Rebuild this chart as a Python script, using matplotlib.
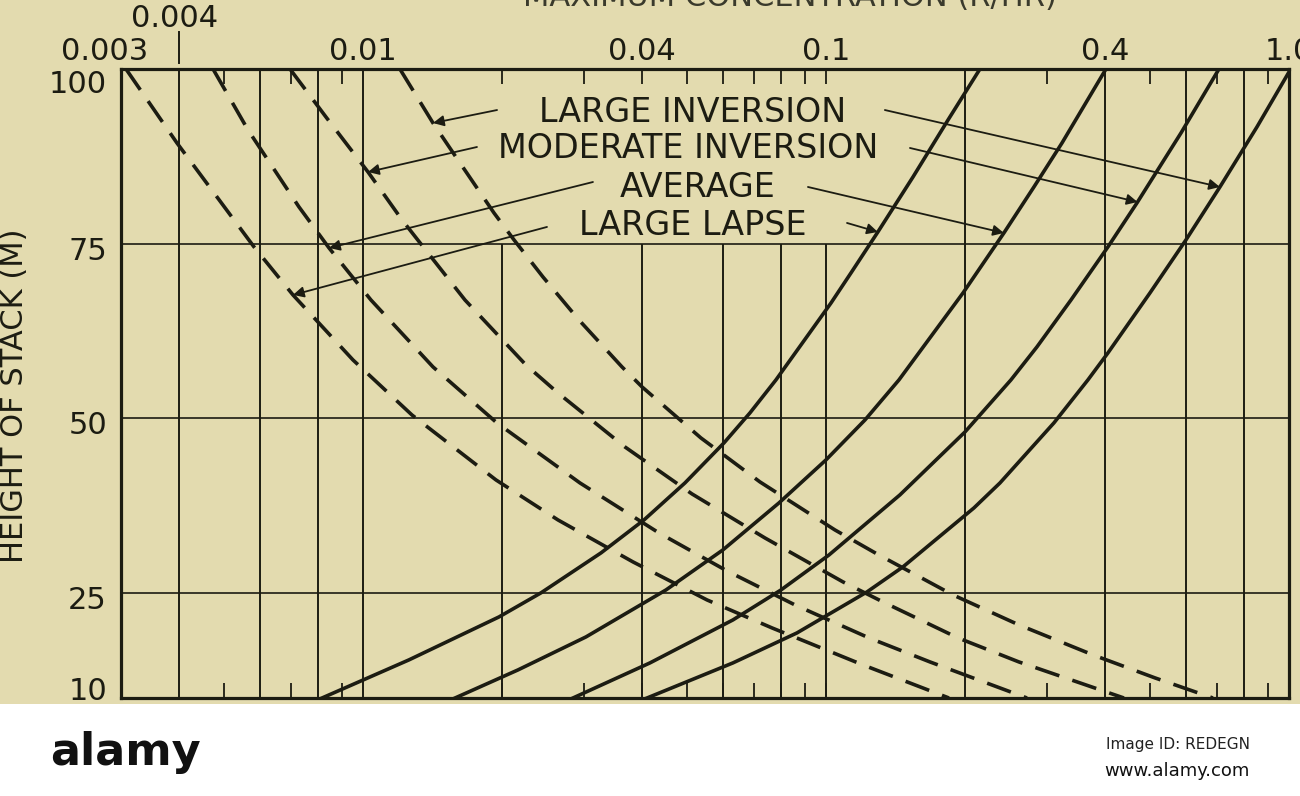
import numpy as np
import matplotlib
matplotlib.use('Agg')
import matplotlib.pyplot as plt
from matplotlib import transforms
from matplotlib.patches import Rectangle
from matplotlib.ticker import FixedLocator, NullLocator, NullFormatter

# ---------------- data ----------------
cases = ['LARGE LAPSE', 'AVERAGE', 'MODERATE INVERSION', 'LARGE INVERSION']

# dashed curves: height of stack (m) vs concentration
dash_h_lapse = [100, 89.41, 74.54, 67.67, 58.37, 50.50, 41.20, 35.48, 29.47, 24.03, 20.03,
                14.73, 10.0]
dash_c_lapse = [0.003075, 0.003963, 0.005814, 0.007057, 0.00951, 0.01275, 0.01937, 0.02636,
                0.03829, 0.05533, 0.07642, 0.1202, 0.1843]

dash_h_avg = [100, 91.27, 80.26, 74.39, 66.95, 57.37, 49.36, 40.77, 33.62, 28.18, 23.32,
              18.60, 15.16, 10.0]
dash_c_avg = [0.004741, 0.005643, 0.007271, 0.008443, 0.0104, 0.01416, 0.01946, 0.02941,
              0.04356, 0.06111, 0.08567, 0.1238, 0.1677, 0.2717]

dash_h_modinv = [100, 93.13, 85.26, 78.40, 73.68, 66.95, 57.65, 53.65, 45.92, 39.20, 32.90,
                 26.61, 23.61, 18.60, 15.16, 10.0]
dash_c_modinv = [0.006952, 0.008315, 0.01025, 0.01214, 0.01381, 0.0166, 0.02248, 0.02636,
                 0.03679, 0.05134, 0.0738, 0.1088, 0.134, 0.1927, 0.261, 0.44]

dash_h_largeinv = [100, 92.27, 87.41, 79.40, 75.54, 70.24, 64.09, 57.37, 54.51, 47.21, 40.92,
                   34.05, 30.62, 24.75, 20.46, 16.17, 12.88, 10.0]
dash_c_largeinv = [0.01201, 0.01416, 0.01587, 0.01918, 0.02119, 0.02447, 0.02926, 0.03625,
                   0.04005, 0.05367, 0.07198, 0.1045, 0.1288, 0.188, 0.261, 0.3771, 0.5133,
                   0.6849]

# solid curves
solid_h_lapse = [10.0, 15.45, 21.60, 25.04, 30.76, 35.48, 40.77, 46.50, 50.79, 55.51, 66.52,
                 70.82, 76.68, 84.55, 92.70, 100]
solid_c_lapse = [0.008152, 0.01256, 0.01966, 0.02422, 0.03265, 0.04044, 0.04957, 0.06019,
                 0.06849, 0.07794, 0.1025, 0.1132, 0.1294, 0.1541, 0.1834, 0.215]

solid_h_avg = [10.0, 14.02, 18.74, 25.46, 31.19, 37.91, 44.06, 49.79, 55.51, 67.95, 76.54,
               83.12, 89.41, 100]
solid_c_avg = [0.0158, 0.02161, 0.0303, 0.04511, 0.05987, 0.07912, 0.09994, 0.1214, 0.1437,
               0.1976, 0.2422, 0.2812, 0.3233, 0.4024]

solid_h_modinv = [10.0, 15.02, 21.17, 25.46, 30.47, 39.06, 48.07, 55.51, 60.23, 66.95, 74.54,
                  80.83, 90.84, 100]
solid_c_modinv = [0.0284, 0.04165, 0.06293, 0.07992, 0.1015, 0.1444, 0.1996, 0.2508, 0.2854,
                  0.3381, 0.4063, 0.4694, 0.5843, 0.7059]

solid_h_largeinv = [10.0, 15.02, 19.31, 25.18, 28.76, 37.20, 40.77, 49.36, 55.51, 59.37, 67.95,
                    75.54, 83.12, 91.70, 99.57]
solid_c_largeinv = [0.04105, 0.06293, 0.08652, 0.1226, 0.1466, 0.2087, 0.2375, 0.3106, 0.3678,
                    0.4063, 0.5007, 0.5989, 0.7092, 0.8525, 1.0]

dashed = [(dash_c_lapse, dash_h_lapse), (dash_c_avg, dash_h_avg),
          (dash_c_modinv, dash_h_modinv), (dash_c_largeinv, dash_h_largeinv)]
solid = [(solid_c_lapse, solid_h_lapse), (solid_c_avg, solid_h_avg),
         (solid_c_modinv, solid_h_modinv), (solid_c_largeinv, solid_h_largeinv)]

# axis text
title = 'MAXIMUM CONCENTRATION (R/HR)'
ylabel = 'HEIGHT OF STACK (M)'
top_tick_vals = [0.01, 0.04, 0.1, 0.4, 1.0]
top_tick_labels = ['0.01', '0.04', '0.1', '0.4', '1.0']
y_tick_vals = [10, 25, 50, 75, 100]
y_tick_labels = ['10', '25', '50', '75', '100']
grid_full = [0.004, 0.006, 0.008, 0.01, 0.2, 0.4, 0.6, 0.8]
grid_short = [0.02, 0.04, 0.06, 0.08, 0.1]
minor_ticks = [0.005, 0.007, 0.009, 0.02, 0.03, 0.04, 0.05, 0.06, 0.07, 0.08, 0.09, 0.1,
               0.3, 0.5, 0.7, 0.9]
grid_y = [25, 50, 75]

# label placement (concentration, height) and arrow tips (heights on curves)
label_pos = {'LARGE INVERSION': (0.0515, 92.47), 'MODERATE INVERSION': (0.0505, 87.27),
             'AVERAGE': (0.0528, 81.69), 'LARGE LAPSE': (0.0515, 76.25)}
left_start = {'LARGE INVERSION': (0.01947, 94.13), 'MODERATE INVERSION': (0.01762, 88.84),
              'AVERAGE': (0.03137, 83.83), 'LARGE LAPSE': (0.02496, 77.40)}
right_start = {'LARGE INVERSION': (0.134, 94.13), 'MODERATE INVERSION': (0.1518, 88.70),
               'AVERAGE': (0.0914, 83.12), 'LARGE LAPSE': (0.111, 77.97)}
left_tip_h = {'LARGE INVERSION': 92.27, 'MODERATE INVERSION': 85.26,
              'AVERAGE': 74.39, 'LARGE LAPSE': 67.67}
right_tip_h = {'LARGE INVERSION': 83.12, 'MODERATE INVERSION': 80.97,
               'AVERAGE': 76.54, 'LARGE LAPSE': 76.68}

# ---------------- style ----------------
BG = '#E3DBAF'
INK = '#1C1C12'
plt.rcParams['font.family'] = ['DejaVu Sans']

W, H = 1300, 796
fig = plt.figure(figsize=(W / 100, H / 100), dpi=100, facecolor=BG)
ax = fig.add_axes([121 / W, 98 / H, 1168 / W, 629 / H])
ax.set_facecolor(BG)
ax.set_xscale('log')
ax.set_xlim(0.003, 1.0)
ax.set_ylim(10, 100)

# grid
ax.vlines(grid_full, 10, 100, color=INK, lw=1.4, zorder=1)
ax.vlines(grid_short, 10, 75, color=INK, lw=1.4, zorder=1)
ax.hlines(grid_y, 0.003, 1.0, color=INK, lw=1.2, zorder=1)

# curves
for c, h in dashed:
    ax.plot(c, h, color=INK, lw=2.6, ls=(0, (7, 3.8)), zorder=3,
            solid_joinstyle='round', dash_joinstyle='round')
for c, h in solid:
    ax.plot(c, h, color=INK, lw=2.6, ls='-', zorder=3, solid_joinstyle='round')

# ticks
ax.xaxis.set_major_locator(NullLocator())
ax.xaxis.set_minor_locator(FixedLocator(minor_ticks))
ax.xaxis.set_minor_formatter(NullFormatter())
ax.xaxis.set_major_formatter(NullFormatter())
ax.tick_params(axis='x', which='minor', direction='in', top=True, bottom=True,
               length=11, width=1.3, color=INK)
ax.set_yticks([])
for s in ax.spines.values():
    s.set_linewidth(2.3)
    s.set_color(INK)

blend_xd = transforms.blended_transform_factory(ax.transData, ax.transAxes)
blend_ay = transforms.blended_transform_factory(ax.transAxes, ax.transData)

# top tick labels
for v, lab in zip(top_tick_vals, top_tick_labels):
    ax.annotate(lab, xy=(v, 1), xycoords=blend_xd, xytext=(0, 9),
                textcoords='offset pixels', ha='center', va='baseline',
                fontsize=22, color=INK, annotation_clip=False)
ax.annotate('0.003', xy=(0.003, 1), xycoords=blend_xd, xytext=(-16, 9),
            textcoords='offset pixels', ha='center', va='baseline',
            fontsize=22, color=INK, annotation_clip=False)
ax.annotate('0.004', xy=(0.004, 1), xycoords=blend_xd, xytext=(-4, 42),
            textcoords='offset pixels', ha='center', va='baseline',
            fontsize=22, color=INK, annotation_clip=False)
ax.plot([0.004, 0.004], [1.0095, 1.0588], transform=blend_xd, color=INK, lw=1.4,
        clip_on=False)

# y tick labels
y_off = {100: -24, 10: -2}
for v, lab in zip(y_tick_vals, y_tick_labels):
    ax.annotate(lab, xy=(0, v), xycoords=blend_ay, xytext=(-14, y_off.get(v, -16)),
                textcoords='offset pixels', ha='right', va='baseline',
                fontsize=22, color=INK, annotation_clip=False)

# axis titles
fig.text(15 / W, 1 - 396 / H, ylabel, rotation=90, ha='center', va='center',
         fontsize=22, color=INK)
fig.text(790 / W, 1 - 6 / H, title, ha='center', va='baseline', fontsize=22,
         color='#3a3a2c')

# curve labels and arrows
def x_on(curve, h):
    c, hh = curve
    c = np.asarray(c, float)
    hh = np.asarray(hh, float)
    order = np.argsort(hh)
    return 10 ** np.interp(h, hh[order], np.log10(c[order]))

arrow_kw = dict(arrowstyle='-|>', color=INK, lw=1.3, mutation_scale=16,
                shrinkA=0, shrinkB=0)
for i, name in enumerate(cases):
    lx, ly = label_pos[name]
    ax.text(lx, ly, name, ha='center', va='baseline', fontsize=24, color=INK, zorder=5)
    th = left_tip_h[name]
    ax.annotate('', xy=(x_on(dashed[i], th), th), xytext=left_start[name],
                arrowprops=arrow_kw, zorder=5)
    th = right_tip_h[name]
    ax.annotate('', xy=(x_on(solid[i], th), th), xytext=right_start[name],
                arrowprops=arrow_kw, zorder=5)

# bottom band
fig.add_artist(Rectangle((0, 0), 1, 92 / H, transform=fig.transFigure,
                         facecolor='white', edgecolor='none'))
fig.text(50 / W, 1 - 765 / H, 'alamy', fontsize=32, weight='bold',
         family=['Liberation Sans Narrow', 'DejaVu Sans'], color='#111111', va='baseline')
fig.text(1250 / W, 1 - 749 / H, 'Image ID: REDEGN', fontsize=11, ha='right',
         va='baseline', color='#222222')
fig.text(1250 / W, 1 - 776 / H, 'www.alamy.com', fontsize=13, ha='right',
         va='baseline', color='#111111')

fig.savefig('out.png', dpi=100, facecolor=BG)
